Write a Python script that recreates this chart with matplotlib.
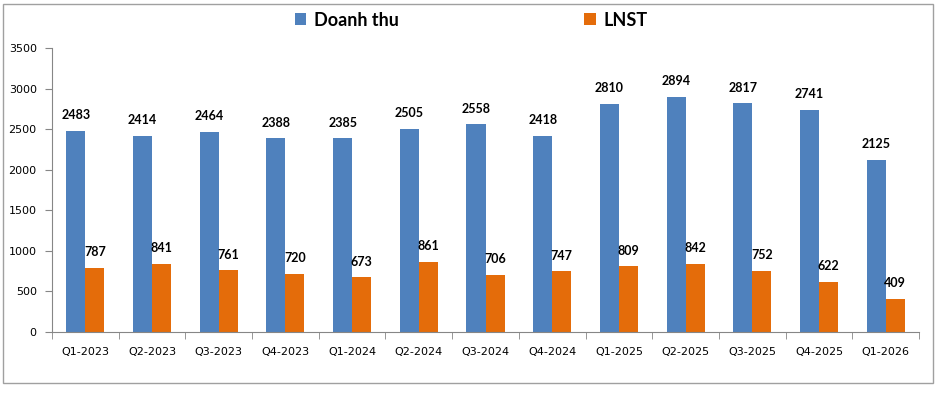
import numpy as np
import matplotlib
matplotlib.use("Agg")
import matplotlib.pyplot as plt
from matplotlib.patches import Rectangle

quarters = ["Q1-2023", "Q2-2023", "Q3-2023", "Q4-2023", "Q1-2024", "Q2-2024", "Q3-2024",
            "Q4-2024", "Q1-2025", "Q2-2025", "Q3-2025", "Q4-2025", "Q1-2026"]
doanh_thu = [2483, 2414, 2464, 2388, 2385, 2505, 2558, 2418, 2810, 2894, 2817, 2741, 2125]
lnst = [787, 841, 761, 720, 673, 861, 706, 747, 809, 842, 752, 622, 409]

blue = "#4F81BD"
orange = "#E46C0A"

fig = plt.figure(figsize=(9.38, 3.93), dpi=100)
ax = fig.add_axes([52 / 938, 61 / 393, 867 / 938, 284 / 393])

x = np.arange(len(quarters))
w = 0.285
b1 = ax.bar(x - w / 2, doanh_thu, w, color=blue, label="Doanh thu")
b2 = ax.bar(x + w / 2, lnst, w, color=orange, label="LNST")

for bars in (b1, b2):
    for r in bars:
        ax.annotate(f"{int(r.get_height())}", (r.get_x() + r.get_width() / 2, r.get_height()),
                    xytext=(0, 7), textcoords="offset points", ha="center", va="bottom",
                    fontsize=9, fontweight="bold", family="Lato")

ax.set_xlim(-0.5, len(quarters) - 0.5)
ax.set_ylim(0, 3500)
ax.set_yticks(range(0, 3501, 500))
ax.set_xticks(x)
ax.set_xticklabels(quarters)
ax.set_xticks(np.arange(-0.5, len(quarters), 1), minor=True)
ax.tick_params(axis="x", which="major", length=0, pad=11, labelsize=8)
ax.tick_params(axis="x", which="minor", length=5, color="#868686")
ax.tick_params(axis="y", length=5, color="#868686", labelsize=8, pad=6)
for s in ("top", "right"):
    ax.spines[s].set_visible(False)
for s in ("left", "bottom"):
    ax.spines[s].set_color("#868686")

fig.legend(handles=[b1, b2], loc="center", bbox_to_anchor=(471 / 938, 1 - 20 / 393), ncol=2,
           frameon=False, columnspacing=10.3, handlelength=0.65, handleheight=0.65, handletextpad=0.4,
           prop={"family": "Lato", "weight": "bold", "size": 13})

fig.patches.append(Rectangle((3 / 938, 10 / 393), 930 / 938, 379 / 393, transform=fig.transFigure,
                             fill=False, edgecolor="#A0A0A0", linewidth=1))

fig.savefig("out.png", dpi=100)
